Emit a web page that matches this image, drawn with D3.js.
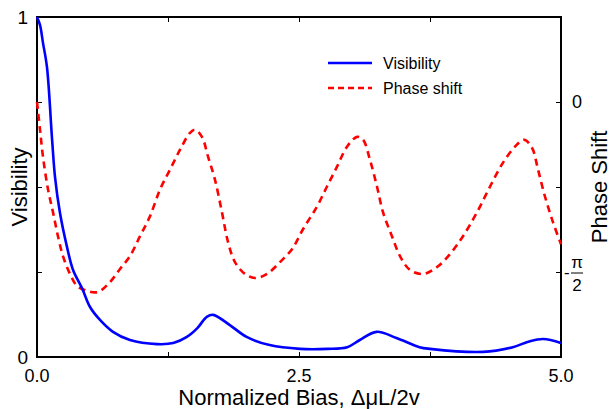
<!DOCTYPE html>
<html>
<head>
<meta charset="utf-8">
<script src="https://cdn.jsdelivr.net/npm/d3@7"></script>
<style>
  body { margin: 0; background: #fff; }
  text { font-family: "Liberation Sans", Arial, sans-serif; fill: #000; }
</style>
</head>
<body>
<svg id="chart" width="613" height="409"></svg>
<script>
// valores
const visX = [0, 0.029, 0.057, 0.095, 0.143, 0.172, 0.219, 0.286, 0.344, 0.429, 0.506, 0.601, 0.725, 0.887, 1.145, 1.30, 1.43, 1.53, 1.62, 1.68, 1.84, 2.00, 2.22, 2.51, 2.77, 2.96, 3.08, 3.24, 3.43, 3.65, 3.75, 4.26, 4.54, 4.68, 4.83, 5.0];
const visY = [1.0, 0.976, 0.924, 0.853, 0.644, 0.529, 0.424, 0.324, 0.256, 0.203, 0.147, 0.109, 0.074, 0.050, 0.038, 0.041, 0.059, 0.085, 0.118, 0.124, 0.094, 0.059, 0.035, 0.024, 0.024, 0.029, 0.050, 0.074, 0.056, 0.029, 0.024, 0.015, 0.029, 0.044, 0.053, 0.041];

// fase em radianos
const phaseX = [0, 0.029, 0.057, 0.105, 0.153, 0.200, 0.248, 0.315, 0.382, 0.477, 0.582, 0.697, 0.792, 0.887, 0.983, 1.078, 1.174, 1.269, 1.365, 1.460, 1.508, 1.574, 1.632, 1.698, 1.765, 1.823, 1.889, 1.985, 2.080, 2.195, 2.319, 2.433, 2.538, 2.672, 2.767, 2.863, 2.958, 3.053, 3.111, 3.177, 3.244, 3.302, 3.387, 3.464, 3.559, 3.683, 3.817, 3.941, 4.065, 4.198, 4.323, 4.447, 4.561, 4.647, 4.723, 4.781, 4.847, 4.924, 5.0];
const phaseY = [0, -0.257, -0.505, -0.808, -1.020, -1.240, -1.424, -1.589, -1.699, -1.745, -1.755, -1.663, -1.543, -1.424, -1.240, -1.056, -0.808, -0.625, -0.441, -0.285, -0.257, -0.322, -0.505, -0.717, -1.020, -1.295, -1.479, -1.589, -1.626, -1.589, -1.479, -1.360, -1.176, -0.965, -0.781, -0.597, -0.413, -0.322, -0.349, -0.533, -0.781, -1.020, -1.240, -1.424, -1.552, -1.589, -1.525, -1.405, -1.240, -1.020, -0.781, -0.560, -0.413, -0.349, -0.423, -0.625, -0.873, -1.112, -1.314];

const xTicks = [0, 1.25, 2.5, 3.75, 5];
const xTickLabels = ["0.0", "", "2.5", "", "5.0"];
const visTicks = [0, 0.25, 0.5, 0.75, 1];
const visTickLabels = ["0", "", "", "", "1"];
const phaseTicks = [0, -Math.PI / 4, -Math.PI / 2];

const margin = { top: 17, right: 52, bottom: 52, left: 37 };
const W = 613, H = 409;
const width = W - margin.left - margin.right;
const height = H - margin.top - margin.bottom;

const svg = d3.select("#chart");
const g = svg.append("g").attr("transform", `translate(${margin.left},${margin.top})`);

const x = d3.scaleLinear().domain([0, 5]).range([0, width]);
const yVis = d3.scaleLinear().domain([0, 1]).range([height, 0]);
const yPhase = d3.scaleLinear().domain([-3 * Math.PI / 4, Math.PI / 4]).range([height, 0]);

// eixos com ticks para dentro
function styleAxis(sel) {
  sel.select(".domain").remove();
  sel.selectAll(".tick line").attr("stroke", "#000").attr("stroke-width", 1);
  sel.selectAll(".tick text").remove();
}
g.append("g").attr("transform", `translate(0,${height})`)
  .call(d3.axisBottom(x).tickValues(xTicks.slice(1, -1)).tickSizeInner(-5).tickSizeOuter(0))
  .call(styleAxis);
g.append("g")
  .call(d3.axisTop(x).tickValues(xTicks.slice(1, -1)).tickSizeInner(-5).tickSizeOuter(0))
  .call(styleAxis);
g.append("g")
  .call(d3.axisLeft(yVis).tickValues(visTicks.slice(1, -1)).tickSizeInner(-5).tickSizeOuter(0))
  .call(styleAxis);
g.append("g").attr("transform", `translate(${width},0)`)
  .call(d3.axisRight(yPhase).tickValues(phaseTicks).tickSizeInner(-5).tickSizeOuter(0))
  .call(styleAxis);

// moldura
g.append("rect")
  .attr("width", width).attr("height", height)
  .attr("fill", "none").attr("stroke", "#000").attr("stroke-width", 2);

// curvas
const visLine = d3.line().x((d, i) => x(visX[i])).y((d) => yVis(d)).curve(d3.curveCatmullRom.alpha(0.5));
const phaseLine = d3.line().x((d, i) => x(phaseX[i])).y((d) => yPhase(d)).curve(d3.curveCatmullRom.alpha(0.5));

g.append("path").datum(phaseY)
  .attr("d", phaseLine)
  .attr("fill", "none").attr("stroke", "#ff0000")
  .attr("stroke-width", 2.6).attr("stroke-dasharray", "7,5");

g.append("path").datum(visY)
  .attr("d", visLine)
  .attr("fill", "none").attr("stroke", "#0000ff")
  .attr("stroke-width", 2.6);

// rótulos dos ticks
xTicks.forEach((t, i) => {
  if (!xTickLabels[i]) return;
  svg.append("text")
    .attr("x", margin.left + x(t)).attr("y", margin.top + height + 25)
    .attr("text-anchor", "middle").style("font-size", "18px")
    .text(xTickLabels[i]);
});
visTicks.forEach((t, i) => {
  if (!visTickLabels[i]) return;
  svg.append("text")
    .attr("x", 28).attr("y", margin.top + yVis(t))
    .attr("dy", "0.35em").attr("text-anchor", "end").style("font-size", "19px")
    .text(visTickLabels[i]);
});

const rx = margin.left + width;
svg.append("text")
  .attr("x", rx + 11).attr("y", margin.top + yPhase(0))
  .attr("dy", "0.35em").style("font-size", "18px").text("0");

// -π/2 como fração
const yHalf = margin.top + yPhase(-Math.PI / 2);
svg.append("text").attr("x", rx + 3).attr("y", yHalf).attr("dy", "0.35em")
  .style("font-size", "17px").text("-");
svg.append("text").attr("x", rx + 16).attr("y", yHalf - 4)
  .attr("text-anchor", "middle").style("font-size", "17px").text("π");
svg.append("line").attr("x1", rx + 10).attr("x2", rx + 22)
  .attr("y1", yHalf + 1).attr("y2", yHalf + 1)
  .attr("stroke", "#000").attr("stroke-width", 1);
svg.append("text").attr("x", rx + 16).attr("y", yHalf + 19)
  .attr("text-anchor", "middle").style("font-size", "17px").text("2");

// títulos dos eixos
svg.append("text")
  .attr("transform", `translate(${margin.left + width / 2},${H - 4})`)
  .attr("text-anchor", "middle").style("font-size", "22px")
  .text("Normalized Bias, ΔμL/2v");

svg.append("text")
  .attr("transform", `translate(27,${margin.top + height / 2}) rotate(-90)`)
  .attr("text-anchor", "middle").style("font-size", "22px")
  .text("Visibility");

svg.append("text")
  .attr("transform", `translate(607,${margin.top + height / 2}) rotate(-90)`)
  .attr("text-anchor", "middle").style("font-size", "22px")
  .text("Phase Shift");

// legenda
const legend = [
  { label: "Visibility", color: "#0000ff", dash: null, y: 63 },
  { label: "Phase shift", color: "#ff0000", dash: "6,4", y: 88 }
];
legend.forEach((d) => {
  svg.append("line")
    .attr("x1", 328).attr("x2", 372).attr("y1", d.y).attr("y2", d.y)
    .attr("stroke", d.color).attr("stroke-width", 2.6)
    .attr("stroke-dasharray", d.dash);
  svg.append("text")
    .attr("x", 383).attr("y", d.y).attr("dy", "0.35em")
    .style("font-size", "16px").text(d.label);
});
</script>
</body>
</html>
